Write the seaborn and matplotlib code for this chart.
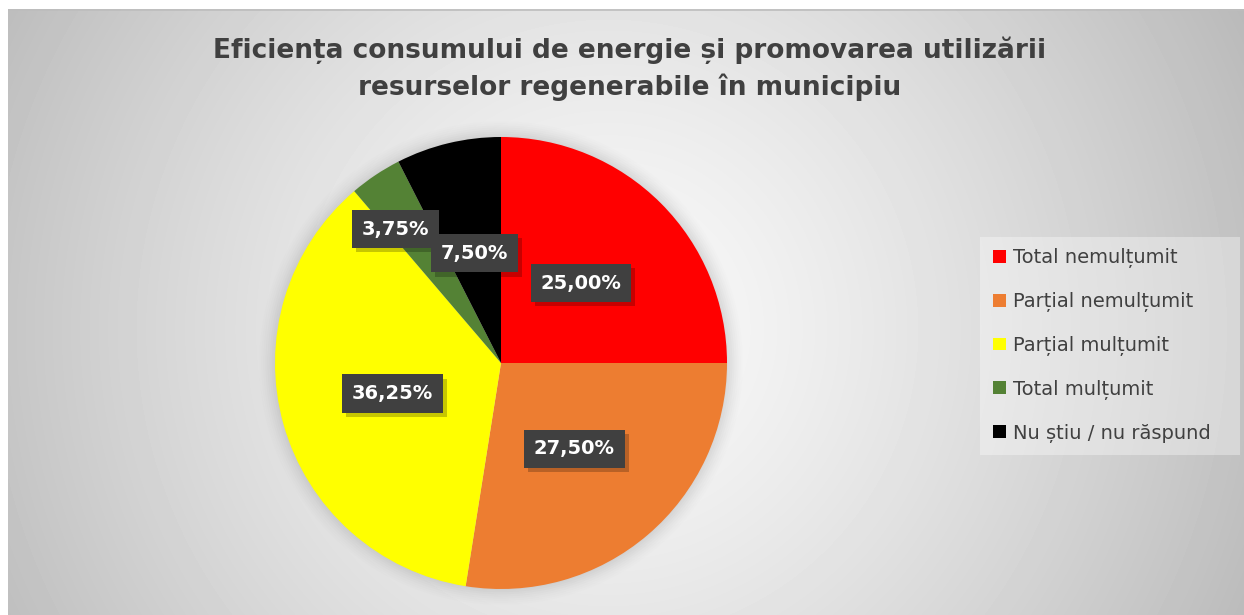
import numpy as np
import matplotlib
matplotlib.use("Agg")
import matplotlib.pyplot as plt
import matplotlib.patheffects as pe
from matplotlib.patches import Patch, Circle, Rectangle
import seaborn as sns

# Survey answers and their shares (percent)
categories = ["Total nemulțumit", "Parțial nemulțumit", "Parțial mulțumit",
              "Total mulțumit", "Nu știu / nu răspund"]
shares = [25.00, 27.50, 36.25, 3.75, 7.50]
slice_colors = ["#ff0000", "#ed7d31", "#ffff00", "#548235", "#000000"]
title_text = ("Eficiența consumului de energie și promovarea utilizării\n"
              "resurselor regenerabile în municipiu")

sns.set_theme(style="white")
plt.rcParams["font.family"] = ["DejaVu Sans"]

W, H, DPI = 1244, 615, 100
fig = plt.figure(figsize=(W / DPI, H / DPI), dpi=DPI, facecolor="white")

# Radial grey background of the chart area
bg_left, bg_top = 8, 9
bg = fig.add_axes([bg_left / W, 0, 1 - bg_left / W, 1 - bg_top / H])
bw, bh = W - bg_left, H - bg_top
yy, xx = np.mgrid[0:bh, 0:bw]
cx, cy = 600, 320
d = np.hypot(xx - cx, yy - cy) / 690.0
val = 250 - 62 * np.clip(d, 0, 1.2) ** 1.3
bg.imshow(val, cmap="gray", vmin=0, vmax=255, aspect="auto",
          interpolation="bilinear", extent=(0, bw, bh, 0))
bg.plot([0, bw], [0.5, 0.5], color="#bdbdbd", lw=1.2)
bg.set_xlim(0, bw)
bg.set_ylim(bh, 0)
bg.axis("off")

# Pie axes: centre (501, 363) px, radius 226 px
R = 226
pcx, pcy = 501, 363
ax = fig.add_axes([(pcx - R) / W, 1 - (pcy + R) / H, 2 * R / W, 2 * R / H])

# soft halo behind the pie
for k, a in zip(np.linspace(1.07, 1.005, 8), np.linspace(0.012, 0.045, 8)):
    ax.add_patch(Circle((0, 0), k, color="#808080", alpha=a, lw=0,
                        zorder=0, clip_on=False))

wedges, _, autotexts = ax.pie(
    shares, colors=slice_colors, startangle=90, counterclock=False,
    radius=1, autopct=lambda p: f"{p:.2f}%".replace(".", ","),
    pctdistance=0.5, wedgeprops=dict(linewidth=0), frame=False)
ax.set_xlim(-1, 1)
ax.set_ylim(-1, 1)
ax.set_aspect("equal")
ax.axis("off")

label_dist = [0.5, 0.5, 0.5, 0.755, 0.5]
label_dtheta = [0, 0, 0, 4.5, 0]
for w, t, r, dt in zip(wedges, autotexts, label_dist, label_dtheta):
    mid = np.deg2rad((w.theta1 + w.theta2) / 2 + dt)
    t.set_position((r * np.cos(mid), r * np.sin(mid)))
    t.set_color("white")
    t.set_fontsize(14)
    t.set_fontweight("bold")
    t.set_ha("center")
    t.set_va("center")
    t.set_bbox(dict(boxstyle="square,pad=0.5", facecolor="#404040",
                    edgecolor="none", linewidth=0))
    t.get_bbox_patch().set_path_effects(
        [pe.SimplePatchShadow(offset=(3, -3), shadow_rgbFace="#000000", alpha=0.22),
         pe.Normal()])

# Title
fig.text(630 / W, 1 - 69 / H, title_text, ha="center", va="center",
         fontsize=19, fontweight="bold", color="#404040", linespacing=1.45)

# Legend box and entries
leg_bg = Rectangle((980 / W, 1 - 455 / H), 260 / W, 218 / H,
                   transform=fig.transFigure, facecolor="white", alpha=0.35,
                   edgecolor="none", zorder=1)
fig.patches.append(leg_bg)
handles = [Patch(facecolor=c, edgecolor="none") for c in slice_colors]
fig.legend(handles, categories, loc="upper left",
           bbox_to_anchor=(993 / W, 1 - 248 / H), frameon=False,
           fontsize=14, labelcolor="#404040", handlelength=0.65,
           handleheight=0.65, handletextpad=0.4, labelspacing=1.23,
           borderaxespad=0, borderpad=0)

fig.savefig("out.png", dpi=DPI, facecolor="white")
